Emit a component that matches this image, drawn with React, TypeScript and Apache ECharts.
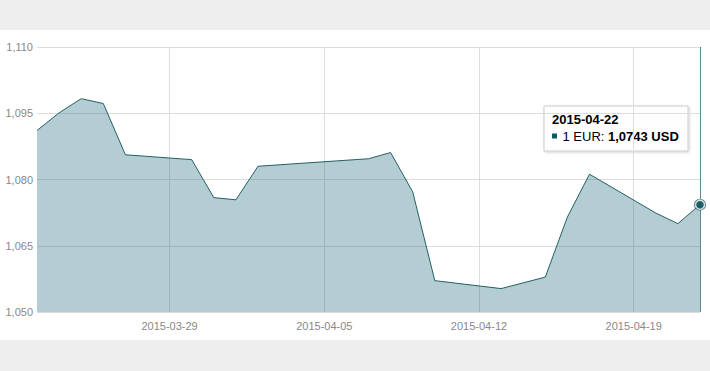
import React, { useEffect, useRef } from "react";
import * as echarts from "echarts";

const categories: string[] = [
  "2015-03-23", "2015-03-24", "2015-03-25", "2015-03-26", "2015-03-27", "2015-03-28", "2015-03-29",
  "2015-03-30", "2015-03-31", "2015-04-01", "2015-04-02", "2015-04-03", "2015-04-04", "2015-04-05",
  "2015-04-06", "2015-04-07", "2015-04-08", "2015-04-09", "2015-04-10", "2015-04-11", "2015-04-12",
  "2015-04-13", "2015-04-14", "2015-04-15", "2015-04-16", "2015-04-17", "2015-04-18", "2015-04-19",
  "2015-04-20", "2015-04-21", "2015-04-22",
];

const eurUsd: (number | null)[] = [
  1.0911, 1.0951, 1.0983, 1.0972, 1.0856, null, null,
  1.0845, 1.0759, 1.0754, 1.0830, null, null, null,
  null, 1.0847, 1.0861, 1.0772, 1.0571, null, null,
  1.0553, 1.0566, 1.0579, 1.0715, 1.0812, null, null,
  1.0724, 1.0700, 1.0743,
];

const yTicks = { min: 1.05, max: 1.11, interval: 0.015 };
const seriesName = "1 EUR";
const unit = "USD";

const fmtComma = (v: number, d: number) => v.toFixed(d).replace(".", ",");

export default function App() {
  const ref = useRef<HTMLDivElement>(null);

  useEffect(() => {
    if (!ref.current) return;
    const chart = echarts.init(ref.current, null, { renderer: "svg" });
    const lastIdx = categories.length - 1;
    const lastVal = eurUsd[lastIdx] as number;
    const weekly = (index: number) => index >= 6 && (index - 6) % 7 === 0;
    const font = "'Liberation Sans', Arial, Helvetica, sans-serif";

    chart.setOption({
      animation: false,
      backgroundColor: "#ffffff",
      grid: { left: 37, right: 10, top: 17, bottom: 28, containLabel: false },
      xAxis: {
        type: "category",
        data: categories,
        boundaryGap: false,
        axisLine: { show: false },
        axisTick: { show: false },
        axisLabel: {
          interval: weekly,
          color: "#888888",
          fontSize: 11,
          fontFamily: font,
          margin: 8,
        },
        splitLine: {
          show: true,
          interval: weekly,
          lineStyle: { color: "#dddddd", width: 1 },
        },
      },
      yAxis: {
        type: "value",
        min: yTicks.min,
        max: yTicks.max,
        interval: yTicks.interval,
        axisLine: { show: false },
        axisTick: { show: false },
        axisLabel: {
          color: "#888888",
          fontSize: 11,
          fontFamily: font,
          margin: 4,
          formatter: (v: number) => fmtComma(v, 3),
        },
        splitLine: { lineStyle: { color: "#dddddd", width: 1 } },
      },
      series: [
        {
          type: "line",
          name: seriesName,
          data: eurUsd,
          connectNulls: true,
          showSymbol: false,
          symbol: "none",
          lineStyle: { color: "#245f66", width: 1 },
          areaStyle: { color: "rgba(2,88,105,0.3)", opacity: 1 },
          markLine: {
            silent: true,
            symbol: ["none", "none"],
            label: { show: false },
            lineStyle: { color: "#5f8a8e", width: 1, type: "solid" },
            data: [{ xAxis: categories[lastIdx] }],
          },
          z: 2,
        },
        {
          type: "scatter",
          data: [[lastIdx, lastVal]],
          symbol: "circle",
          symbolSize: 12,
          itemStyle: { color: "#2b5c63" },
          z: 5,
        },
        {
          type: "scatter",
          data: [[lastIdx, lastVal]],
          symbol: "circle",
          symbolSize: 9,
          itemStyle: { color: "#0e5a64", borderColor: "#ffffff", borderWidth: 1.5 },
          z: 6,
        },
      ],
      graphic: [
        {
          type: "group",
          x: 544,
          y: 76,
          z: 100,
          children: [
            {
              type: "rect",
              shape: { x: 0, y: 0, width: 144, height: 45 },
              style: {
                fill: "rgba(255,255,255,0.96)",
                stroke: "#cccccc",
                lineWidth: 1,
                shadowBlur: 3,
                shadowOffsetX: 1,
                shadowOffsetY: 1,
                shadowColor: "rgba(0,0,0,0.18)",
              },
            },
            {
              type: "text",
              x: 8,
              y: 13,
              style: {
                text: categories[lastIdx],
                fill: "#000000",
                font: `bold 13px ${font}`,
                textVerticalAlign: "middle",
              },
            },
            {
              type: "rect",
              shape: { x: 8, y: 27.5, width: 5, height: 5 },
              style: { fill: "#0e5a64" },
            },
            {
              type: "text",
              x: 18.5,
              y: 30,
              style: {
                text: `{a|${seriesName}: }{b|${fmtComma(lastVal, 4)} ${unit}}`,
                textVerticalAlign: "middle",
                rich: {
                  a: { fontSize: 13, fontFamily: font, color: "#000000" },
                  b: { fontSize: 13, fontFamily: font, fontWeight: "bold", color: "#000000" },
                },
              },
            },
          ],
        },
      ],
    });

    return () => chart.dispose();
  }, []);

  return (
    <div
      style={{
        position: "absolute",
        left: 0,
        top: 0,
        width: 710,
        height: 371,
        background: "#eeeeee",
      }}
    >
      <div
        ref={ref}
        style={{ position: "absolute", left: 0, top: 30, width: 710, height: 310, background: "#ffffff" }}
      />
    </div>
  );
}
